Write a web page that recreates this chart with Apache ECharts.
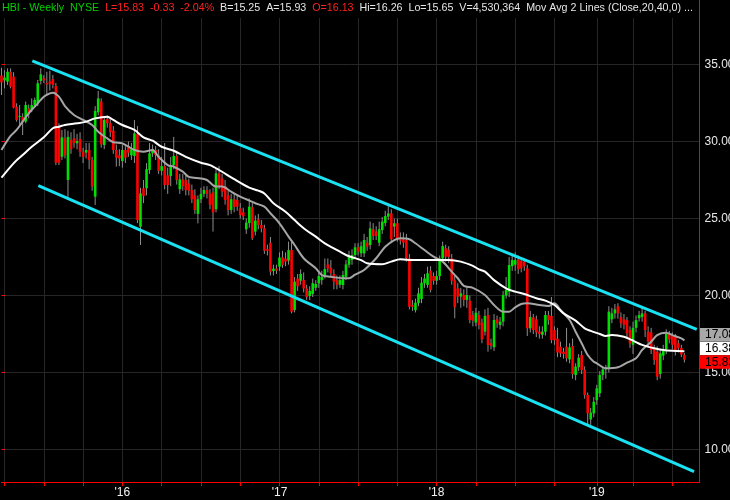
<!DOCTYPE html>
<html>
<head>
<meta charset="utf-8">
<script src="https://cdn.jsdelivr.net/npm/echarts@6/dist/echarts.min.js"></script>
<style>
html,body{margin:0;padding:0;background:#000;}
#chart{width:730px;height:500px;}
</style>
</head>
<body>
<div id="chart"></div>
<script>
// ---------- DATA ----------
const symbolText = "HBI - Weekly  NYSE";
const bidText = "B=15.25";
const askText = "A=15.93";
const volumeText = "V=4,530,364";
const studyText = "Mov Avg 2 Lines (Close,20,40,0) ...";
const firstWeek = "2015-03-30";
const weekCount = 232;

const openP = [
34.28,33.97,33.89,34.53,34.21,32.26,31.65,31.6,31.29,32.15,
32.05,32.37,32.48,33.93,34.1,33.8,33.9,34.06,33.6,30.96,
29.01,30.2,27.5,30.1,30.2,29.88,30.16,29.34,29.28,29.45,
28.8,26.42,31.9,32.59,29.77,31.46,31.2,30.7,29.45,29.1,
28.73,29.45,29.7,29.1,29.06,30.5,24.47,26.96,26.96,28.15,
29.23,29.45,29.12,28.1,28.4,27.8,27.76,28.47,29.06,26.9,
27.54,27.5,27.28,26.85,26.5,25.3,26.25,26.6,26.85,26.6,
26.7,25.6,27.93,27.6,27.1,26.5,25.55,26.25,26.2,25.66,
25.4,24.3,24.7,25.73,24.15,24.95,24.58,24.36,23.0,23.43,
21.59,21.76,21.87,22.48,22.4,22.26,22.95,19.06,21.1,20.96,
21.0,20.46,19.97,20.1,20.5,20.79,21.0,21.33,22.02,21.8,
21.4,21.0,20.7,20.68,21.22,22.0,22.3,22.63,23.13,22.74,
22.74,23.43,23.28,24.3,24.15,23.43,24.25,24.7,25.12,25.33,
24.47,24.69,23.65,23.65,23.6,22.41,19.38,19.05,19.5,19.77,
20.79,20.68,21.61,21.26,20.96,21.26,22.41,23.06,22.95,22.41,
21.0,20.46,19.93,20.03,19.71,19.66,18.73,18.24,18.73,18.24,
17.65,18.73,16.9,16.64,18.45,18.08,18.3,20.0,20.25,21.9,
22.0,22.35,22.25,22.2,21.76,17.87,18.58,18.45,17.65,17.45,
17.65,18.73,18.67,17.76,17.2,16.68,16.35,16.68,15.85,16.72,
14.84,15.34,16.13,15.16,13.54,11.95,12.35,13.2,13.65,14.84,
15.2,15.27,18.45,18.84,19.3,18.6,18.45,18.4,17.76,16.8,
17.9,18.52,18.6,18.84,17.65,17.6,16.57,16.35,14.9,16.1,
16.5,17.5,17.4,17.3,16.9,16.6,16.13];

const closeP = [
33.84,34.15,34.53,33.56,32.2,31.4,31.66,31.29,32.37,31.76,
32.37,32.7,33.78,34.36,33.97,33.7,33.75,33.67,28.62,28.62,
30.27,29.1,30.3,29.5,29.9,30.03,29.34,29.0,29.45,28.8,
27.07,31.98,32.8,29.82,31.4,31.18,30.6,29.45,28.95,28.9,
29.45,28.95,29.27,29.5,30.53,24.9,26.63,26.46,28.2,29.23,
29.49,29.12,28.1,28.4,27.17,27.17,28.47,29.06,27.5,27.54,
27.1,26.85,26.8,26.25,25.55,26.25,26.6,26.85,26.6,25.9,
25.4,27.93,27.07,26.75,26.2,25.55,26.25,25.75,25.77,25.23,
25.15,24.73,25.77,23.71,24.86,24.58,24.36,22.91,22.9,21.55,
21.74,21.61,22.46,21.98,22.2,22.95,18.95,20.9,20.6,21.4,
20.46,19.9,20.3,20.8,20.75,21.26,21.2,21.72,21.76,21.44,
20.9,20.68,21.0,21.33,22.02,22.57,22.63,23.13,22.85,23.2,
23.6,23.17,24.36,23.86,23.86,24.3,24.8,25.16,25.33,23.65,
24.69,23.71,23.56,23.43,22.41,19.27,19.27,19.53,20.14,20.83,
21.1,21.44,20.36,20.96,21.26,22.41,23.21,22.52,22.5,20.96,
19.23,19.93,20.14,19.71,20.03,18.41,18.36,18.88,18.08,17.15,
18.67,16.79,16.73,18.41,18.19,18.3,20.03,20.36,21.98,22.3,
22.3,21.7,21.76,21.9,17.87,18.6,17.76,17.6,17.5,17.65,
18.73,18.4,17.1,17.1,16.3,16.24,16.2,15.92,16.63,14.9,
15.38,15.96,15.16,13.54,12.35,12.4,13.1,13.97,14.84,15.2,
15.3,18.95,18.84,19.1,18.84,18.2,18.1,17.55,16.89,17.9,
18.4,18.73,18.84,17.76,17.0,16.46,15.81,14.73,16.24,16.4,
17.5,17.15,16.8,16.35,16.6,16.16,15.83];

const lowP = [
33.02,33.45,33.67,33.45,32.15,31.29,31.07,30.42,31.18,31.5,
31.9,32.2,32.3,33.7,33.8,33.06,33.3,33.45,28.47,28.47,
28.8,28.9,26.3,29.2,29.6,29.5,29.0,28.6,28.9,28.2,
26.8,25.88,31.7,29.6,29.5,30.9,30.3,29.2,28.37,28.4,
28.3,28.6,29.0,28.8,28.6,24.7,23.28,26.0,26.5,27.9,
29.0,28.8,27.9,27.8,26.9,26.6,27.1,28.2,27.2,26.6,
26.8,26.5,26.5,26.0,25.3,24.69,26.0,26.4,26.3,25.6,
24.15,25.4,26.9,26.4,25.9,25.2,25.3,25.4,25.5,25.0,
24.9,24.0,24.4,23.6,23.9,24.3,24.1,22.7,22.6,21.3,
21.3,21.4,21.6,21.8,21.9,22.0,18.84,18.9,20.3,20.7,
20.2,19.7,19.7,19.9,20.3,20.5,20.7,21.1,21.5,21.2,
20.4,20.4,20.5,20.4,21.0,21.8,22.0,22.4,22.6,22.5,
22.5,22.9,23.0,23.6,23.6,23.2,24.0,24.5,24.9,23.4,
23.8,23.5,23.3,23.1,22.2,19.1,19.0,18.9,19.3,19.5,
20.5,20.5,20.2,20.7,20.7,21.0,22.2,22.2,22.1,20.7,
18.52,19.5,19.2,19.3,19.2,18.2,18.0,18.0,17.8,16.9,
17.4,16.35,16.5,16.4,17.9,17.8,18.0,19.8,19.9,21.6,
21.6,21.4,21.5,21.6,17.37,17.6,17.5,17.3,17.2,17.2,
17.4,18.1,16.9,16.8,16.0,16.0,15.9,15.7,15.6,14.6,
14.5,15.1,14.9,13.3,11.6,11.6,12.1,12.9,13.4,14.5,
14.6,15.0,18.2,18.5,18.5,17.9,17.8,17.2,16.6,16.2,
17.6,18.3,18.3,17.3,16.6,16.2,15.5,14.5,14.6,15.8,
16.2,16.9,16.5,16.1,16.3,16.0,15.65];

const highP = [
34.79,34.64,34.75,34.75,34.5,32.48,32.37,31.83,32.59,32.4,
32.8,32.85,33.99,34.75,34.3,34.53,34.6,34.32,33.8,31.18,
30.75,30.8,30.7,30.6,30.8,30.5,30.6,29.6,29.9,29.9,
29.0,32.3,33.28,32.8,31.6,31.7,31.5,31.0,29.8,29.5,
29.8,29.7,30.0,29.9,31.4,31.0,27.0,27.5,28.6,29.9,
29.8,29.7,29.5,29.0,29.9,28.3,29.0,30.3,29.4,27.9,
27.9,27.8,27.6,27.2,26.9,26.5,27.0,27.1,27.1,26.9,
27.0,28.2,28.4,27.9,27.5,26.8,26.6,26.6,26.5,26.0,
25.7,25.0,26.3,26.0,25.2,25.3,24.9,24.6,23.3,23.8,
22.0,22.0,22.8,22.9,22.8,23.5,23.6,21.2,21.4,21.7,
21.5,20.7,20.6,21.1,21.0,21.5,21.6,22.4,22.4,22.3,
21.7,21.3,21.3,21.6,22.3,22.9,23.0,23.4,23.4,23.5,
24.0,23.8,24.8,24.7,24.5,24.8,25.1,25.5,25.8,25.6,
25.0,25.0,24.1,24.1,24.0,22.7,19.7,19.8,20.5,21.2,
21.4,21.87,21.9,21.5,21.6,22.6,23.5,23.3,23.2,22.7,
21.3,20.8,20.5,20.4,20.57,20.0,19.0,19.2,19.0,18.5,
19.1,19.2,17.2,18.8,18.7,18.6,20.3,21.2,22.5,22.6,
22.8,22.6,22.5,22.4,22.0,19.0,18.8,18.7,18.0,18.0,
19.0,19.0,19.9,18.0,17.9,17.0,16.6,17.9,16.9,17.2,
15.6,16.2,16.4,15.4,13.7,12.7,13.4,14.2,15.1,15.4,
15.5,19.3,19.2,19.45,19.5,18.9,18.8,18.6,18.0,18.3,
18.7,19.0,19.2,19.0,18.0,17.9,16.8,16.7,16.5,16.8,
17.8,17.7,17.6,17.5,17.1,16.8,16.26];

// 20-week moving average: [week index, value]
const ma20 = [[0,29.45],[3,30.36],[5,30.75],[7,31.29],[9,31.83],[12,32.48],[14,32.91],[16,33.13],[17,33.17],[19,32.91],[21,32.3],[24,31.72],[27,31.4],[30,31.07],[32,30.64],[35,30.2],[37,29.95],[40,29.88],[44,29.45],[47,29.34],[50,29.45],[52,29.0],[55,28.47],[57,28.36],[60,28.04],[62,27.7],[66,27.6],[68,27.5],[71,27.07],[73,27.07],[76,26.74],[79,26.42],[81,26.25],[84,25.99],[87,25.77],[89,25.34],[92,24.69],[95,23.82],[97,23.28],[100,22.42],[104,21.77],[106,21.33],[109,21.22],[113,21.12],[115,21.12],[117,21.35],[120,21.66],[124,22.42],[127,23.17],[130,23.6],[132,23.71],[135,23.65],[137,23.39],[140,22.95],[143,22.52],[146,22.2],[149,21.55],[151,21.12],[153,20.62],[156,20.5],[160,20.03],[163,19.38],[166,18.95],[168,18.95],[170,19.23],[172,19.45],[174,19.49],[178,19.38],[181,19.32],[183,19.49],[185,19.06],[188,18.41],[190,17.65],[192,16.9],[194,16.14],[196,15.7],[197,15.6],[200,15.27],[204,15.34],[207,15.64],[210,15.92],[212,16.46],[215,17.0],[217,17.43],[220,17.58],[222,17.43],[225,17.22],[226,17.08]];
// 40-week moving average
const ma40 = [[0,27.65],[4,28.58],[7,29.12],[10,29.66],[14,30.27],[17,30.86],[19,30.96],[21,31.07],[25,31.18],[28,31.29],[31,31.5],[35,31.61],[37,31.4],[40,31.07],[44,30.75],[47,30.27],[50,30.05],[53,29.66],[57,29.4],[61,29.0],[66,28.62],[69,28.47],[72,28.15],[77,27.55],[82,27.0],[85,26.81],[87,26.63],[90,25.99],[94,25.44],[97,24.9],[100,24.37],[104,23.82],[107,23.39],[110,23.06],[114,22.63],[116,22.48],[119,22.3],[121,22.09],[126,22.03],[129,22.2],[132,22.35],[136,22.3],[139,22.3],[144,22.3],[148,22.3],[152,22.2],[156,21.92],[158,21.7],[160,21.55],[163,21.0],[167,20.47],[170,20.25],[173,20.1],[177,19.82],[180,19.67],[183,19.38],[186,18.84],[190,18.37],[193,17.87],[195,17.7],[198,17.5],[200,17.37],[202,17.43],[206,17.32],[209,17.07],[212,16.79],[216,16.57],[219,16.46],[222,16.41],[226,16.38]];

// trend channel lines: [week index, price]
const channelUpper = [[10.2,35.23],[230.1,17.8]];
const channelLower = [[12.2,27.13],[229.2,8.57]];

// ---------- BUILD ----------
const weeks = [];
const t0 = Date.parse(firstWeek + "T00:00:00Z");
for (let k = 0; k < weekCount; k++) {
  weeks.push(new Date(t0 + k * 7 * 86400000).toISOString().slice(0, 10));
}
function isQuarterStart(s) {
  const m = +s.slice(5, 7), d = +s.slice(8, 10);
  return (m === 1 || m === 4 || m === 7 || m === 10) && d <= 7;
}
function isYearStart(s) {
  return +s.slice(5, 7) === 1 && +s.slice(8, 10) <= 7;
}
const candles = openP.map((o, i) => [i, o, closeP[i], lowP[i], highP[i]]);
const n = closeP.length;
const last = closeP[n - 1], prev = closeP[n - 2];
const chg = last - prev;
const pct = chg / prev * 100;
const lastMa20 = ma20[ma20.length - 1][1];
const lastMa40 = ma40[ma40.length - 1][1];
// last-value tags on the price axis: [value]; drawn in order MA20, MA40, close
const lastTags = [[lastMa20], [lastMa40], [last]];
const tagStyles = [
  {bg: '#a8a8a8', dy: -6},
  {bg: '#ffffff', dy: -3},
  {bg: '#ff0000', dy: 2}
];

const FONT = "'Liberation Sans', Arial, sans-serif";
const GREEN = '#00e000', RED = '#ff0000', GRIDC = '#262626';
const HF = 10.7;

const headerText =
  '{g|' + symbolText + '}  ' +
  '{r|L=' + last.toFixed(2) + '  ' + chg.toFixed(2) + '  ' + pct.toFixed(2) + '%}  ' +
  '{w|' + bidText + '  ' + askText + '}  ' +
  '{r|O=' + openP[n - 1].toFixed(2) + '}  ' +
  '{w|Hi=' + highP[n - 1].toFixed(2) + '  Lo=' + lowP[n - 1].toFixed(2) + '  ' + volumeText + '  ' + studyText + '}';

const chart = echarts.init(document.getElementById('chart'), null, {renderer: 'canvas'});
chart.setOption({
  backgroundColor: '#000',
  animation: false,
  title: {
    left: 0, top: 0,
    padding: [3, 4, 4, 2],
    backgroundColor: '#000',
    text: headerText,
    textStyle: {
      fontFamily: FONT, fontSize: HF, fontWeight: 'normal',
      rich: {
        g: {color: '#00d000', fontFamily: FONT, fontSize: HF},
        r: {color: '#ff2020', fontFamily: FONT, fontSize: HF},
        w: {color: '#e6e6e6', fontFamily: FONT, fontSize: HF}
      }
    }
  },
  grid: [
    {left: 1.5, right: 30.5, top: -12.5, height: 539, outerBoundsMode: 'none', containLabel: false},
    {left: 1.5, right: 30.5, top: 0, bottom: 18, outerBoundsMode: 'none', containLabel: false}
  ],
  xAxis: [
    {gridIndex: 0, type: 'category', data: weeks, boundaryGap: false, show: false},
    {gridIndex: 0, type: 'value', min: 0, max: weekCount - 1, show: false},
    {
      gridIndex: 1, type: 'category', data: weeks, boundaryGap: false,
      axisLine: {show: true, lineStyle: {color: RED, width: 1}},
      axisTick: {show: true, length: 4, interval: (i, v) => isQuarterStart(v), lineStyle: {color: RED}},
      axisLabel: {
        interval: (i, v) => isYearStart(v),
        formatter: v => "'" + v.slice(2, 4),
        color: '#f0f0f0', fontFamily: FONT, fontSize: 12, margin: 5
      },
      splitLine: {show: true, interval: (i, v) => isQuarterStart(v), lineStyle: {color: GRIDC, width: 1}}
    }
  ],
  yAxis: [
    {
      gridIndex: 0, type: 'value', position: 'right', min: 5, max: 40, interval: 5,
      axisLine: {show: false},
      axisTick: {show: true, length: 4, lineStyle: {color: RED}},
      axisLabel: {color: '#e8e8e8', fontFamily: FONT, fontSize: 12, margin: 5, formatter: v => v.toFixed(2)},
      splitLine: {show: true, lineStyle: {color: GRIDC, width: 1}}
    },
    {
      gridIndex: 1, type: 'value', position: 'right', min: 0, max: 1,
      axisLine: {show: true, lineStyle: {color: RED, width: 1}},
      axisTick: {show: false}, axisLabel: {show: false}, splitLine: {show: false}
    }
  ],
  series: [
    {
      type: 'custom', name: 'HBI', xAxisIndex: 0, yAxisIndex: 0,
      data: candles,
      encode: {x: 0, y: [1, 2, 3, 4]},
      renderItem: function (params, api) {
        const x = api.value(0);
        const o = api.value(1), c = api.value(2), l = api.value(3), h = api.value(4);
        const pO = api.coord([x, o]), pC = api.coord([x, c]);
        const pL = api.coord([x, l]), pH = api.coord([x, h]);
        const w = 2.6;
        const top = Math.min(pO[1], pC[1]);
        const ht = Math.max(1, Math.abs(pO[1] - pC[1]));
        return {
          type: 'group',
          children: [
            {type: 'line', shape: {x1: pH[0], y1: pH[1], x2: pL[0], y2: pL[1]}, style: {stroke: '#8e8e8e', lineWidth: 1}},
            {type: 'rect', shape: {x: pO[0] - w / 2, y: top, width: w, height: ht}, style: {fill: c >= o ? GREEN : RED}}
          ]
        };
      }
    },
    {
      type: 'line', name: 'MA20', xAxisIndex: 1, yAxisIndex: 0, data: ma20,
      showSymbol: false, smooth: 0.3, lineStyle: {color: '#a6a6a6', width: 2}, z: 3
    },
    {
      type: 'line', name: 'MA40', xAxisIndex: 1, yAxisIndex: 0, data: ma40,
      showSymbol: false, smooth: 0.3, lineStyle: {color: '#ffffff', width: 2}, z: 3
    },
    {
      type: 'line', name: 'ChannelUpper', xAxisIndex: 1, yAxisIndex: 0, data: channelUpper,
      showSymbol: false, lineStyle: {color: '#19e2f2', width: 3}, z: 4
    },
    {
      type: 'line', name: 'ChannelLower', xAxisIndex: 1, yAxisIndex: 0, data: channelLower,
      showSymbol: false, lineStyle: {color: '#19e2f2', width: 3}, z: 4
    },
    {
      type: 'custom', name: 'LastTags', xAxisIndex: 1, yAxisIndex: 0, clip: false, z: 10,
      data: lastTags,
      encode: {y: 0},
      renderItem: function (params, api) {
        const v = api.value(0);
        const st = tagStyles[params.dataIndex];
        const p = api.coord([weekCount - 1, v]);
        const x0 = p[0] + 0.5;
        const yc = p[1] + st.dy;
        return {
          type: 'group',
          children: [
            {type: 'rect', shape: {x: x0, y: yc - 6.5, width: 40, height: 13.5}, style: {fill: st.bg}},
            {type: 'text', style: {x: x0 + 5, y: yc + 0.5, text: v.toFixed(2), fill: '#000',
              fontFamily: 'Liberation Sans', fontSize: 12, verticalAlign: 'middle', align: 'left'}}
          ]
        };
      }
    }
  ]
});
</script>
</body>
</html>
